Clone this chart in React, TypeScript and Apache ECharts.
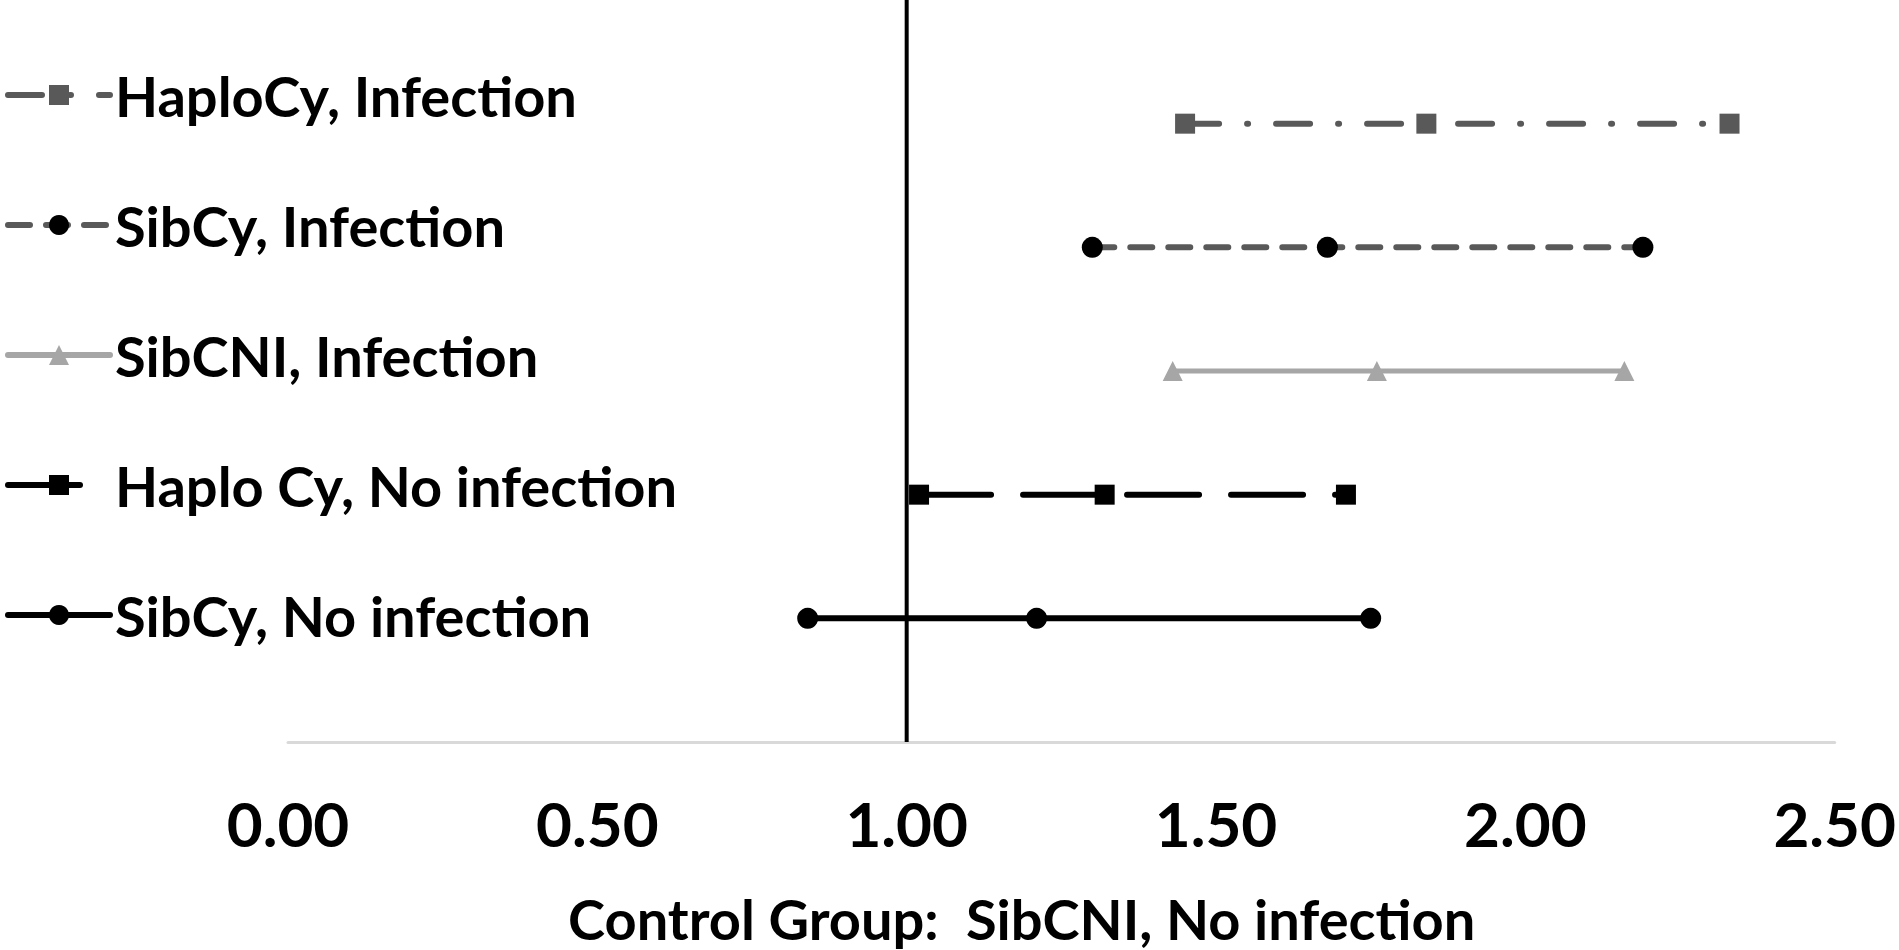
import React, { useEffect, useRef } from "react";
import * as echarts from "echarts";

const seriesNames = [
  "HaploCy, Infection",
  "SibCy, Infection",
  "SibCNI, Infection",
  "Haplo Cy, No infection",
  "SibCy, No infection",
];
const rowPositions = [5, 4, 3, 2, 1];
const haploCyInfection = [1.45, 1.84, 2.33];
const sibCyInfection = [1.3, 1.68, 2.19];
const sibCniInfection = [1.43, 1.76, 2.16];
const haploCyNoInfection = [1.02, 1.32, 1.71];
const sibCyNoInfection = [0.84, 1.21, 1.75];
const referenceValue = 1;
const xMin = 0;
const xMax = 2.5;
const xInterval = 0.5;
const yMax = 6;
const axisTitle = "Control Group:  SibCNI, No infection";

const FONT = "Lato, 'Open Sans', sans-serif";

export default function App() {
  const ref = useRef<HTMLDivElement>(null);

  useEffect(() => {
    if (!ref.current) return;
    const chart = echarts.init(ref.current, undefined, { renderer: "svg" });
    const values = [haploCyInfection, sibCyInfection, sibCniInfection, haploCyNoInfection, sibCyNoInfection];
    const styles = [
      { line: "#595959", mark: "#595959", symbol: "rect", dash: [34, 28, 1, 28], width: 6, size: 20 },
      { line: "#595959", mark: "#000000", symbol: "circle", dash: [22, 16], width: 6, size: 21 },
      { line: "#A6A6A6", mark: "#A6A6A6", symbol: "triangle", dash: "solid", width: 5, size: 20 },
      { line: "#000000", mark: "#000000", symbol: "rect", dash: [72, 32], width: 6, size: 20 },
      { line: "#000000", mark: "#000000", symbol: "circle", dash: "solid", width: 6, size: 21 },
    ];
    const series: any[] = values.map((vals, i) => ({
      name: seriesNames[i],
      type: "line",
      data: vals.map((v) => [v, rowPositions[i]]),
      symbol: styles[i].symbol,
      symbolSize: styles[i].size,
      lineStyle: {
        color: styles[i].line,
        width: styles[i].width,
        type: styles[i].dash,
        cap: "round",
      },
      itemStyle: { color: styles[i].mark },
      z: 3,
    }));
    series.push({
      name: "reference",
      type: "line",
      data: [
        [referenceValue, 0],
        [referenceValue, yMax],
      ],
      symbol: "none",
      lineStyle: { color: "#000000", width: 4 },
      z: 2,
    });

    chart.setOption({
      animation: false,
      backgroundColor: "#ffffff",
      grid: { left: 288, right: 55, top: -5, bottom: 208 },
      legend: {
        orient: "vertical",
        left: 0,
        top: 60,
        data: seriesNames,
        itemWidth: 102,
        itemHeight: 25,
        itemGap: 70,
        selectedMode: false,
        lineStyle: { width: 6, type: "inherit" },
        textStyle: {
          fontFamily: FONT,
          fontWeight: "bold",
          fontSize: 56,
          lineHeight: 60,
          color: "#000000",
        },
      },
      xAxis: {
        type: "value",
        min: xMin,
        max: xMax,
        interval: xInterval,
        axisLine: { show: true, lineStyle: { color: "#D9D9D9", width: 3 } },
        axisTick: { show: false },
        splitLine: { show: false },
        axisLabel: {
          margin: 50,
          fontFamily: FONT,
          fontWeight: "bold",
          fontSize: 62,
          lineHeight: 62,
          color: "#000000",
          formatter: (v: number) => v.toFixed(2),
        },
      },
      yAxis: {
        type: "value",
        min: 0,
        max: yMax,
        show: false,
        splitLine: { show: false },
      },
      graphic: [
        {
          type: "text",
          left: 568,
          top: 890,
          style: {
            text: axisTitle,
            fontFamily: FONT,
            fontWeight: "bold",
            fontSize: 56,
            fill: "#000000",
          },
        },
      ],
      series,
    });
    return () => chart.dispose();
  }, []);

  return (
    <div
      ref={ref}
      style={{ position: "fixed", left: 0, top: 0, width: 1899, height: 950 }}
    />
  );
}
